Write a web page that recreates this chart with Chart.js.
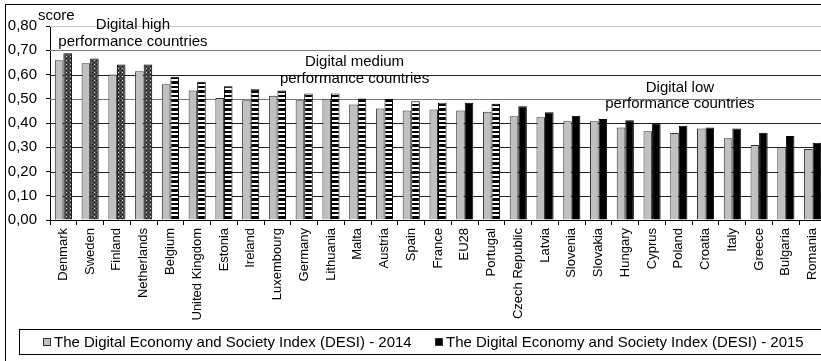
<!DOCTYPE html>
<html>
<head>
<meta charset="utf-8">
<script src="https://cdn.jsdelivr.net/npm/chart.js@4.4.0/dist/chart.umd.min.js"></script>
<style>
  html, body { margin: 0; padding: 0; background: #fff; overflow: hidden; }
  canvas { display: block; }
</style>
</head>
<body>
<canvas id="desiChart" width="840" height="361"></canvas>
<script>
const countries = ['Denmark','Sweden','Finland','Netherlands','Belgium','United Kingdom','Estonia','Ireland',
  'Luxembourg','Germany','Lithuania','Malta','Austria','Spain','France','EU28','Portugal','Czech Republic',
  'Latvia','Slovenia','Slovakia','Hungary','Cyprus','Poland','Croatia','Italy','Greece','Bulgaria','Romania']

const desi2014 = [0.659,0.646,0.600,0.613,0.560,0.534,0.503,0.494,0.512,0.494,0.500,0.476,0.460,0.452,0.456,
  0.452,0.446,0.428,0.424,0.407,0.407,0.381,0.366,0.359,0.377,0.337,0.309,0.300,0.293]

const desi2015 = [0.688,0.666,0.641,0.641,0.591,0.570,0.552,0.539,0.534,0.522,0.522,0.501,0.500,0.490,0.483,
  0.483,0.479,0.469,0.444,0.430,0.417,0.411,0.399,0.389,0.381,0.377,0.360,0.346,0.319]

// performance group of each country (EU28 average shown as plain black)
const groups = ['high','high','high','high','medium','medium','medium','medium','medium','medium','medium',
  'medium','medium','medium','medium','eu','medium','low','low','low','low','low','low','low','low','low',
  'low','low','low']

const groupLabels = [['Digital high','performance countries'],
                     ['Digital medium','performance countries'],
                     ['Digital low','performance countries']]

const seriesNames = ['The Digital Economy and Society Index (DESI) - 2014',
                     'The Digital Economy and Society Index (DESI) - 2015']

// one colour per y gridline, from 0,00 up to 0,80
const gridColors = ['#000','#222','#222','#222','#222','#7a7a7a','#222','#7a7a7a','#c8c8c8']

const FONT = '"Liberation Sans", Arial, sans-serif'

// small tiles for the 2015 fills
function makePattern(w, h, draw) {
    const c = document.createElement('canvas')
    c.width = w; c.height = h
    draw(c.getContext('2d'))
    return c.getContext('2d').createPattern(c, 'repeat')
}
const dotted = makePattern(4, 4, g => {
    g.fillStyle = '#4a4a4a'; g.fillRect(0, 0, 4, 4)
    g.fillStyle = '#111'; g.fillRect(0, 0, 1, 1); g.fillRect(2, 2, 1, 1)
    g.fillStyle = '#ddd'; g.fillRect(2, 0, 1, 1)
})
const striped = makePattern(4, 9, g => {
    g.fillStyle = '#fff'; g.fillRect(0, 0, 4, 9)
    g.fillStyle = '#000'; g.fillRect(0, 0, 4, 3); g.fillRect(0, 5, 4, 2)
})
const fill2015 = groups.map(g => g === 'high' ? dotted : g === 'medium' ? striped : '#000')

// horizontal gridlines behind the bars, one per y tick
const gridLines = {
    id: 'gridLines',
    beforeDatasetsDraw(chart) {
        const ctx = chart.ctx
        const y = chart.scales.y
        const {left, right} = chart.chartArea
        ctx.save()
        ctx.lineWidth = 1
        y.ticks.forEach((t, i) => {
            const py = Math.round(y.getPixelForValue(t.value)) + 0.5
            ctx.strokeStyle = gridColors[i] || '#222'
            ctx.beginPath()
            ctx.moveTo(left, py)
            ctx.lineTo(right, py)
            ctx.stroke()
        })
        ctx.restore()
    }
}

const decor = {
    id: 'decor',
    afterDraw(chart) {
        const ctx = chart.ctx
        const x = chart.scales.x
        ctx.save()
        ctx.strokeStyle = '#000'
        ctx.lineWidth = 1
        ctx.strokeRect(5.5, 4.5, chart.width, chart.height)

        ctx.fillStyle = '#000'
        ctx.font = '15px ' + FONT
        ctx.textBaseline = 'middle'
        ctx.textAlign = 'left'
        ctx.fillText('score', 38, 16)

        ctx.textAlign = 'center'
        const spots = [[2.6, 25, 42], [10.88, 62, 79], [23.04, 88, 104]]
        groupLabels.forEach((lines, i) => {
            const cx = x.getPixelForValue(spots[i][0])
            ctx.fillText(lines[0], cx, spots[i][1])
            ctx.fillText(lines[1], cx, spots[i][2])
        })

        // legend frame and entries
        ctx.strokeRect(19.5, 329.5, chart.width, 25)
        const items = [[43, '#c0c0c0'], [435, '#000']]
        ctx.textAlign = 'left'
        items.forEach(([lx, col], i) => {
            ctx.fillStyle = col
            ctx.fillRect(lx, 338, 8, 8)
            ctx.strokeStyle = '#333'
            ctx.strokeRect(lx + 0.5, 338.5, 7, 7)
            ctx.fillStyle = '#000'
            ctx.fillText(seriesNames[i], lx + 11, 342.5)
        })
        ctx.restore()
    }
}

new Chart(
    document.getElementById('desiChart'), {
        type: 'bar',
        data: {
            labels: countries,
            datasets: [
                {
                    label: seriesNames[0],
                    data: desi2014,
                    backgroundColor: '#c0c0c0',
                    borderColor: '#333',
                    borderWidth: 1,
                    categoryPercentage: 0.64,
                    barPercentage: 1.0
                },
                {
                    label: seriesNames[1],
                    data: desi2015,
                    backgroundColor: fill2015,
                    borderColor: '#000',
                    borderWidth: 1,
                    categoryPercentage: 0.64,
                    barPercentage: 1.0
                }
            ]
        },
        options: {
            responsive: false,
            animation: false,
            devicePixelRatio: 1,
            layout: { padding: { left: 0, right: 14, top: 26, bottom: 0 } },
            plugins: { legend: { display: false }, tooltip: { enabled: false } },
            scales: {
                x: {
                    afterFit: s => { s.height = 141 },
                    grid: { offset: true, drawOnChartArea: false, tickLength: 5, color: '#000' },
                    border: { color: '#000' },
                    ticks: {
                        autoSkip: false, minRotation: 90, maxRotation: 90, padding: 3,
                        color: '#000', font: { family: FONT, size: 13 }
                    }
                },
                y: {
                    min: 0, max: 0.8,
                    afterFit: s => { s.width = 50 },
                    grid: { drawOnChartArea: false, color: '#000', tickLength: 4 },
                    border: { color: '#000' },
                    ticks: {
                        stepSize: 0.1, padding: 9, color: '#000',
                        font: { family: FONT, size: 15 },
                        callback: v => v.toFixed(2).replace('.', ',')
                    }
                }
            }
        },
        plugins: [gridLines, decor]
    }
)
</script>
</body>
</html>
